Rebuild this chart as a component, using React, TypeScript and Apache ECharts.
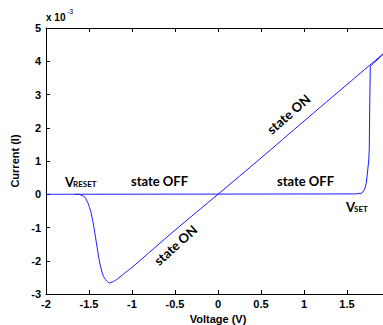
import React, { useEffect, useRef } from "react";
import * as echarts from "echarts";

// Voltage (V) and current (x10^-3 A)
const offSetVoltage = [-1.667, 1.6, 1.665, 1.686, 1.705, 1.724, 1.74, 1.752, 1.759, 1.765, 1.771, 2.0];
const offSetCurrent = [0, 0.01, 0.03, 0.07, 0.15, 0.33, 0.7, 1.0, 1.34, 2.83, 3.85, 4.4];

const onResetVoltage = [2.0, 1.5, 1.0, 0.5, 0, -0.5, -1.0, -1.1, -1.18, -1.23, -1.26, -1.3, -1.337, -1.377, -1.415, -1.453, -1.48, -1.51, -1.55, -1.61, -1.667, -2.0];
const onResetCurrent = [4.4, 3.3, 2.2, 1.09, 0, -1.08, -2.2, -2.4, -2.57, -2.64, -2.67, -2.59, -2.44, -2.04, -1.44, -0.84, -0.52, -0.28, -0.08, -0.01, 0, 0];

const xMin = -2;
const xMax = 2;
const xStep = 0.5;
const yMin = -3;
const yMax = 5;
const yStep = 1;

const LINE = "#1a1aff";
const TICK_FONT = "Liberation Sans, Arial, sans-serif";
const NOTE_FONT = "Lato, Carlito, sans-serif";

export default function App() {
  const ref = useRef<HTMLDivElement>(null);
  useEffect(() => {
    if (!ref.current) return;
    const chart = echarts.init(ref.current, null, { renderer: "svg" });
    const pairs = (xs: number[], ys: number[]) => xs.map((x, i) => [x, ys[i]]);
    const axisCommon = {
      type: "value" as const,
      axisLine: { onZero: false, lineStyle: { color: "#000", width: 1 } },
      axisTick: { inside: true, length: 4, lineStyle: { color: "#000" } },
      splitLine: { show: false },
    };
    const note = (text: string, x: number, y: number, size: number, rot = 0, align = "center") => ({
      type: "text",
      x,
      y,
      rotation: rot,
      style: {
        text,
        fontSize: size,
        fontWeight: "bold",
        fontFamily: NOTE_FONT,
        fill: "#000",
        textAlign: align,
        align,
        textVerticalAlign: "middle",
        verticalAlign: "middle",
      },
    });
    chart.setOption({
      animation: false,
      backgroundColor: "#fff",
      grid: { left: 46, top: 28, width: 344, height: 266, outerBoundsMode: "none", containLabel: false },
      xAxis: [
        {
          ...axisCommon,
          min: xMin,
          max: xMax,
          interval: xStep,
          position: "bottom",
          axisLabel: { color: "#000", fontSize: 11, fontWeight: "bold", fontFamily: TICK_FONT, margin: 4, showMaxLabel: false },
          name: "Voltage (V)",
          nameLocation: "middle",
          nameGap: 17,
          nameTextStyle: { color: "#000", fontSize: 11, fontWeight: "bold", fontFamily: TICK_FONT },
        },
        {
          ...axisCommon,
          min: xMin,
          max: xMax,
          interval: xStep,
          position: "top",
          axisLabel: { show: false },
        },
      ],
      yAxis: [
        {
          ...axisCommon,
          min: yMin,
          max: yMax,
          interval: yStep,
          position: "left",
          axisLabel: { color: "#000", fontSize: 11, fontWeight: "bold", fontFamily: TICK_FONT, margin: 5 },
          name: "Current (I)",
          nameLocation: "middle",
          nameRotate: 90,
          nameGap: 16,
          nameTextStyle: { color: "#000", fontSize: 11, fontWeight: "bold", fontFamily: TICK_FONT },
        },
      ],
      series: [
        {
          type: "line",
          data: pairs(offSetVoltage, offSetCurrent),
          showSymbol: false,
          lineStyle: { color: LINE, width: 1 },
          silent: true,
        },
        {
          type: "line",
          data: pairs(onResetVoltage, onResetCurrent),
          showSymbol: false,
          smooth: 0.2,
          lineStyle: { color: LINE, width: 1 },
          silent: true,
        },
      ],
      graphic: [
        {
          type: "text",
          x: 46,
          y: 22,
          style: { text: "x 10", fontSize: 10, fontWeight: "bold", fontFamily: TICK_FONT, fill: "#000", textVerticalAlign: "bottom", verticalAlign: "bottom" },
        },
        {
          type: "text",
          x: 67,
          y: 15,
          style: { text: "-3", fontSize: 7, fontFamily: TICK_FONT, fill: "#000", textVerticalAlign: "bottom", verticalAlign: "bottom" },
        },
        note("V", 65, 182, 13, 0, "left"),
        note("RESET", 73, 184, 8, 0, "left"),
        note("state OFF", 159.5, 181, 13),
        note("state OFF", 305.5, 181, 13),
        note("V", 346, 207, 13, 0, "left"),
        note("SET", 354, 209, 8, 0, "left"),
        note("state ON", 288.5, 114, 13, (41 * Math.PI) / 180),
        note("state ON", 175.5, 245, 13, (42 * Math.PI) / 180),
      ],
    });
    return () => chart.dispose();
  }, []);
  return <div ref={ref} style={{ position: "fixed", left: 0, top: 0, width: 383, height: 325 }} />;
}
